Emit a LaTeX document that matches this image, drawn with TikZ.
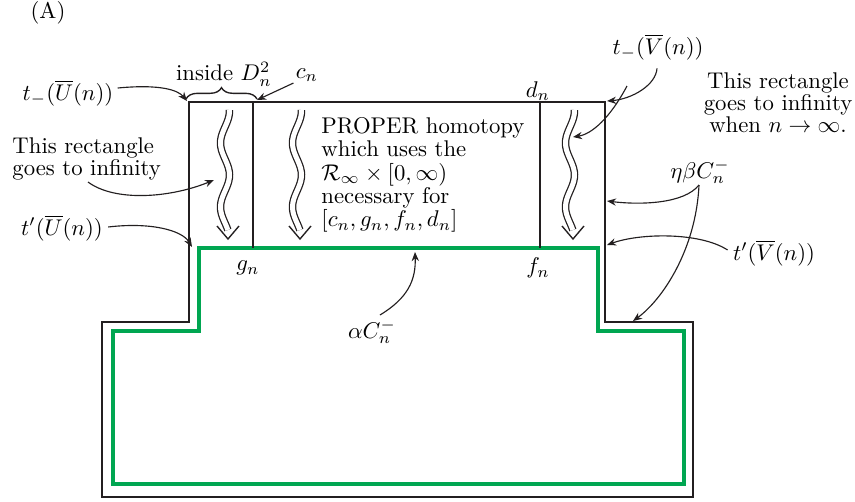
\documentclass[tikz,border=0pt]{standalone}
\usetikzlibrary{arrows.meta,decorations.pathreplacing}
\definecolor{pathgreen}{RGB}{0,166,81}
\definecolor{ink}{RGB}{35,31,32}
\newcommand{\wavyarrow}[1]{%
  \draw[wave] plot[smooth,samples=40,domain=110:230] ({#1-4.5*cos((\x-143)*5.625)},\x);
  \draw[chev] (#1-8,226) -- (#1+3,239) -- (#1+14,226);}
\begin{document}
\begin{tikzpicture}[x=0.44pt,y=-0.44pt,
  lbl/.style={inner sep=0pt,font=\fontsize{10}{9.6}\selectfont},
  outline/.style={draw=ink,line width=1.3pt,line join=miter},
  gpath/.style={draw=pathgreen,line width=1.5pt,line join=miter},
  divider/.style={draw=ink,line width=0.8pt},
  wave/.style={draw=ink,line width=0.55pt,double,double distance=2.2pt},
  chev/.style={draw=ink,line width=0.6pt},
  pointer/.style={draw=ink,line width=0.5pt,-{Stealth[length=4pt,width=3.2pt]}}]
\useasboundingbox (0,0) rectangle (855,501);

% outlines
\draw[outline] (189,102) -- (605,102) -- (605,322) -- (693,322) -- (693,497)
  -- (102,497) -- (102,322) -- (189,322) -- cycle;
\draw[gpath] (199,248) -- (598,248) -- (598,331) -- (684,331) -- (684,484)
  -- (113,484) -- (113,331) -- (199,331) -- cycle;
\draw[divider] (253,102) -- (253,248);
\draw[divider] (540,102) -- (540,248);

% wavy arrows
\wavyarrow{225}
\wavyarrow{297}
\wavyarrow{570}

% brace
\draw[ink,line width=0.6pt,decorate,decoration={brace,amplitude=5pt}] (186,99) -- (257,99);

% labels
\node[lbl] (A) at (48,13) {(A)};
\node[lbl] (inside) at (224,74) {inside $D_n^2$};
\node[lbl] (cn) at (307,75) {$c_n$};
\node[lbl] (dn) at (538,91) {$d_n$};
\node[lbl] (tUm) at (68,93) {$t_-(\overline{U}(n))$};
\node[lbl] (tVm) at (658,47) {$t_-(\overline{V}(n))$};
\node[lbl] (tUp) at (62,228) {$t'(\overline{U}(n))$};
\node[lbl] (tVp) at (774,253) {$t'(\overline{V}(n))$};
\node[lbl] (ebc) at (700,172) {$\eta\beta C_n^-$};
\node[lbl] (gn) at (248,268) {$g_n$};
\node[lbl] (fn) at (538,268) {$f_n$};
\node[lbl] (ac) at (372,332) {$\alpha C_n^-$};
\node[lbl,font=\fontsize{10}{9.8}\selectfont,align=left,anchor=west] (left) at (12,159) {This rectangle\\goes to infinity};
\node[lbl,font=\fontsize{10}{9.6}\selectfont,align=center] (right) at (778,103) {This rectangle\\goes to infinity\\when $n\to\infty$.};
\node[lbl,font=\fontsize{10}{10.3}\selectfont,align=left,anchor=west] (mid) at (321,175) {PROPER homotopy\\which uses the\\$\mathcal{R}_\infty\times[0,\infty)$\\necessary for\\$[c_n,g_n,f_n,d_n]$};

% arrow end points
\coordinate (pUm) at (187,101);
\coordinate (pc) at (257,100);
\coordinate (pVm) at (607,101);
\coordinate (pR) at (573,137);
\coordinate (pL) at (214,180);
\coordinate (pUp) at (192,247);
\coordinate (pE1) at (607,201);
\coordinate (pE2) at (633,321);
\coordinate (pVp) at (607,245);
\coordinate (pA) at (415,252);
\coordinate (sE) at (699,185);
\coordinate (sR) at (627,86);
\coordinate (sL) at (88,182);
\coordinate (sA) at (380,315);

% connectors
\draw[pointer] (tUm.east) ++(4,-5) .. controls (160,84) and (178,90) .. (pUm);
\draw[pointer] (cn.south west) ++(-2,1) -- (pc);
\draw[pointer] (tVm.south) ++(-1,8) .. controls (656,85) and (632,99) .. (pVm);
\draw[pointer] (sR) .. controls (610,118) and (592,134) .. (pR);
\draw[pointer] (sL) .. controls (115,202) and (170,198) .. (pL);
\draw[pointer] (tUp.east) ++(5,-1) .. controls (150,222) and (182,230) .. (pUp);
\draw[pointer] (sE) .. controls (684,204) and (640,205) .. (pE1);
\draw[pointer] (sE) .. controls (696,250) and (662,300) .. (pE2);
\draw[pointer] (tVp.west) ++(-5,-3) .. controls (700,232) and (640,233) .. (pVp);
\draw[pointer] (sA) .. controls (408,298) and (416,280) .. (pA);
\end{tikzpicture}
\end{document}
